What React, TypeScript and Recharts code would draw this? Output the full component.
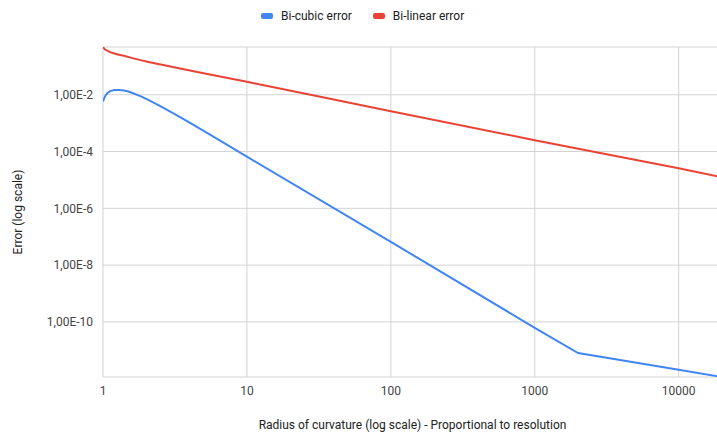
import React from 'react';
import { LineChart, Line, XAxis, YAxis, CartesianGrid } from 'recharts';

// Radius of curvature (proportional to resolution) and interpolation error, log-log.
const bicubicRadius = [1, 1.03, 1.07, 1.12, 1.2, 1.28, 1.4, 1.5, 1.6, 1.8, 2, 2.5, 3, 4, 5.5, 10, 100, 1000, 2000, 10000, 20000];
const bicubicError = [0.0058, 0.0085, 0.0113, 0.0134, 0.0146, 0.0148, 0.0142, 0.0130, 0.0115, 0.0091, 0.00714, 0.0040, 0.0024, 0.00104, 0.0004, 6.6e-5, 6.6e-8, 6.2e-11, 8.0e-12, 2.07e-12, 1.15e-12];

const bilinearRadius = [1, 1.02, 1.05, 1.1, 1.2, 1.4, 1.7, 2, 3, 5, 10, 100, 1000, 10000, 20000];
const bilinearError = [0.48, 0.42, 0.375, 0.33, 0.285, 0.235, 0.18, 0.148, 0.097, 0.057, 0.0285, 0.00263, 0.000251, 2.57e-5, 1.25e-5];

const xTicks = [1, 10, 100, 1000, 10000];
const yTicks = [1e-2, 1e-4, 1e-6, 1e-8, 1e-10];

const seriesNames = ['Bi-cubic error', 'Bi-linear error'];
const seriesColors = ['#4285F4', '#EA4335'];

const xTitle = 'Radius of curvature (log scale) - Proportional to resolution';
const yTitle = 'Error (log scale)';

const bicubicData = bicubicRadius.map((x, i) => ({ x, y: bicubicError[i] }));
const bilinearData = bilinearRadius.map((x, i) => ({ x, y: bilinearError[i] }));

const FONT = 'Roboto, "Noto Sans", sans-serif';

const formatY = (v: number) => {
  const exp = Math.round(Math.log10(v));
  return `1,00E${exp}`;
};

const tickStyle = { fontFamily: FONT, fontSize: 12, fill: '#444' };

const YTitle = (props: any) => {
  const vb = props.viewBox || {};
  const cy = vb.y + vb.height / 2;
  return (
    <text
      x={18}
      y={cy}
      transform={`rotate(-90, 18, ${cy})`}
      textAnchor="middle"
      dominantBaseline="central"
      fontFamily={FONT}
      fontSize={12}
      fill="#222"
    >
      {yTitle}
    </text>
  );
};

const XTitle = (props: any) => {
  const vb = props.viewBox || {};
  const cx = vb.x + vb.width / 2;
  return (
    <text x={cx} y={429} textAnchor="middle" fontFamily={FONT} fontSize={12} fill="#222">
      {xTitle}
    </text>
  );
};

const LegendRow = () => (
  <div
    style={{
      position: 'absolute',
      top: 9,
      left: 261,
      display: 'flex',
      alignItems: 'center',
      fontFamily: FONT,
      fontSize: 12,
      color: '#222',
      whiteSpace: 'nowrap',
      lineHeight: '14px',
    }}
  >
    {seriesNames.map((name, i) => (
      <div key={name} style={{ display: 'flex', alignItems: 'center', marginRight: 21 }}>
        <span
          style={{
            display: 'inline-block',
            width: 12,
            height: 6,
            borderRadius: 2,
            background: seriesColors[i],
            marginRight: 8,
          }}
        />
        <span>{name}</span>
      </div>
    ))}
  </div>
);

export default function App() {
  return (
    <div
      style={{
        position: 'absolute',
        left: 0,
        top: 0,
        width: 717,
        height: 435,
        overflow: 'hidden',
        background: '#fff',
      }}
    >
      <LegendRow />
      <LineChart
        width={722}
        height={435}
        margin={{ top: 47, right: 0, bottom: 0, left: 0 }}
        style={{ position: 'absolute', left: 0, top: 0 }}
      >
        <CartesianGrid stroke="#d3d3d3" strokeWidth={1} />
        <XAxis
          type="number"
          dataKey="x"
          scale="log"
          domain={[1, 20000]}
          ticks={xTicks}
          allowDataOverflow
          axisLine={false}
          tickLine={false}
          tickSize={0}
          tickMargin={9}
          height={58}
          tick={tickStyle}
          tickFormatter={(v: number) => String(v)}
          label={<XTitle />}
        />
        <YAxis
          type="number"
          dataKey="y"
          scale="log"
          domain={[1.15e-12, 0.48]}
          ticks={yTicks}
          allowDataOverflow
          axisLine={false}
          tickLine={false}
          tickSize={0}
          tickMargin={10}
          width={103}
          tick={tickStyle}
          tickFormatter={formatY}
          label={<YTitle />}
        />
        <Line
          data={bicubicData}
          dataKey="y"
          name={seriesNames[0]}
          type="linear"
          stroke={seriesColors[0]}
          strokeWidth={2}
          dot={false}
          isAnimationActive={false}
        />
        <Line
          data={bilinearData}
          dataKey="y"
          name={seriesNames[1]}
          type="monotone"
          stroke={seriesColors[1]}
          strokeWidth={2}
          dot={false}
          isAnimationActive={false}
        />
      </LineChart>
    </div>
  );
}
